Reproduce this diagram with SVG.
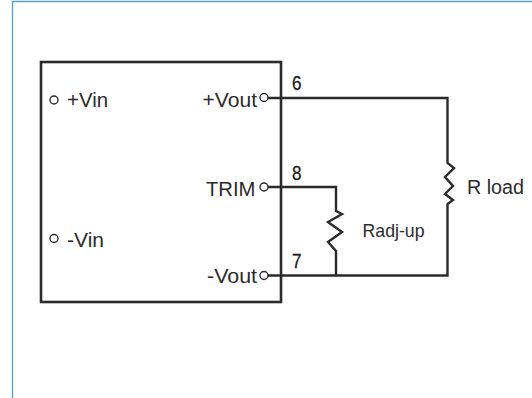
<svg xmlns="http://www.w3.org/2000/svg" width="532" height="398" viewBox="0 0 532 398">
<style>
text{font-family:"Liberation Sans",Arial,sans-serif;fill:#2b2b2b;font-size:20px}
.w{fill:none;stroke:#2b2b2b;stroke-width:2.4;stroke-linejoin:miter}
.p{fill:#fff;stroke:#2b2b2b;stroke-width:1.4}
.n{fill:#1a1a1a;stroke:#1a1a1a;stroke-width:.3}
.s{font-size:19px}
</style>
<rect width="532" height="398" fill="#fff"/>
<path d="M532 1.5H12.5V398" fill="none" stroke="#5b9bd5" stroke-width="1.3"/>
<g id="module">
<rect x="41" y="62" width="240" height="240" fill="#fff" stroke="#2b2b2b" stroke-width="2.6"/>
</g>
<g id="connectors">
<path class="w" d="M268 98H447.5V163L454 168L445 177L453 186L445 194L453 200L447.5 204V275.5H268"/>
<path class="w" d="M268 187H336V211L342 214L328 222L342 232L328 242L336 251V275.5"/>
</g>
<g id="pin-vin-plus"><circle class="p" cx="54" cy="100" r="4"/><text x="67" y="107" textLength="41" lengthAdjust="spacingAndGlyphs">+Vin</text></g>
<g id="pin-vin-minus"><circle class="p" cx="54" cy="238.5" r="4"/><text x="67" y="246.5" textLength="37" lengthAdjust="spacingAndGlyphs">-Vin</text></g>
<g id="pin-vout-plus"><circle class="p" cx="264" cy="97.5" r="4"/><text x="202.500" y="106.500" textLength="54.500" lengthAdjust="spacingAndGlyphs">+Vout</text></g>
<g id="pin-trim"><circle class="p" cx="264" cy="187" r="4"/><text x="206" y="196" textLength="49.500" lengthAdjust="spacingAndGlyphs">TRIM</text></g>
<g id="pin-vout-minus"><circle class="p" cx="264" cy="275.5" r="4"/><text x="207" y="283" textLength="50" lengthAdjust="spacingAndGlyphs">-Vout</text></g>
<g id="label-6"><text class="n" x="292" y="90" textLength="9.500" lengthAdjust="spacingAndGlyphs">6</text></g>
<g id="label-8"><text class="n" x="292" y="179.500" textLength="9.500" lengthAdjust="spacingAndGlyphs">8</text></g>
<g id="label-7"><text class="n" x="292" y="268" textLength="9.500" lengthAdjust="spacingAndGlyphs">7</text></g>
<g id="r-load"><text x="467" y="194" textLength="57" lengthAdjust="spacingAndGlyphs">R load</text></g>
<g id="radj-up"><text class="s" x="362.500" y="237" textLength="62" lengthAdjust="spacingAndGlyphs">Radj-up</text></g>
</svg>
